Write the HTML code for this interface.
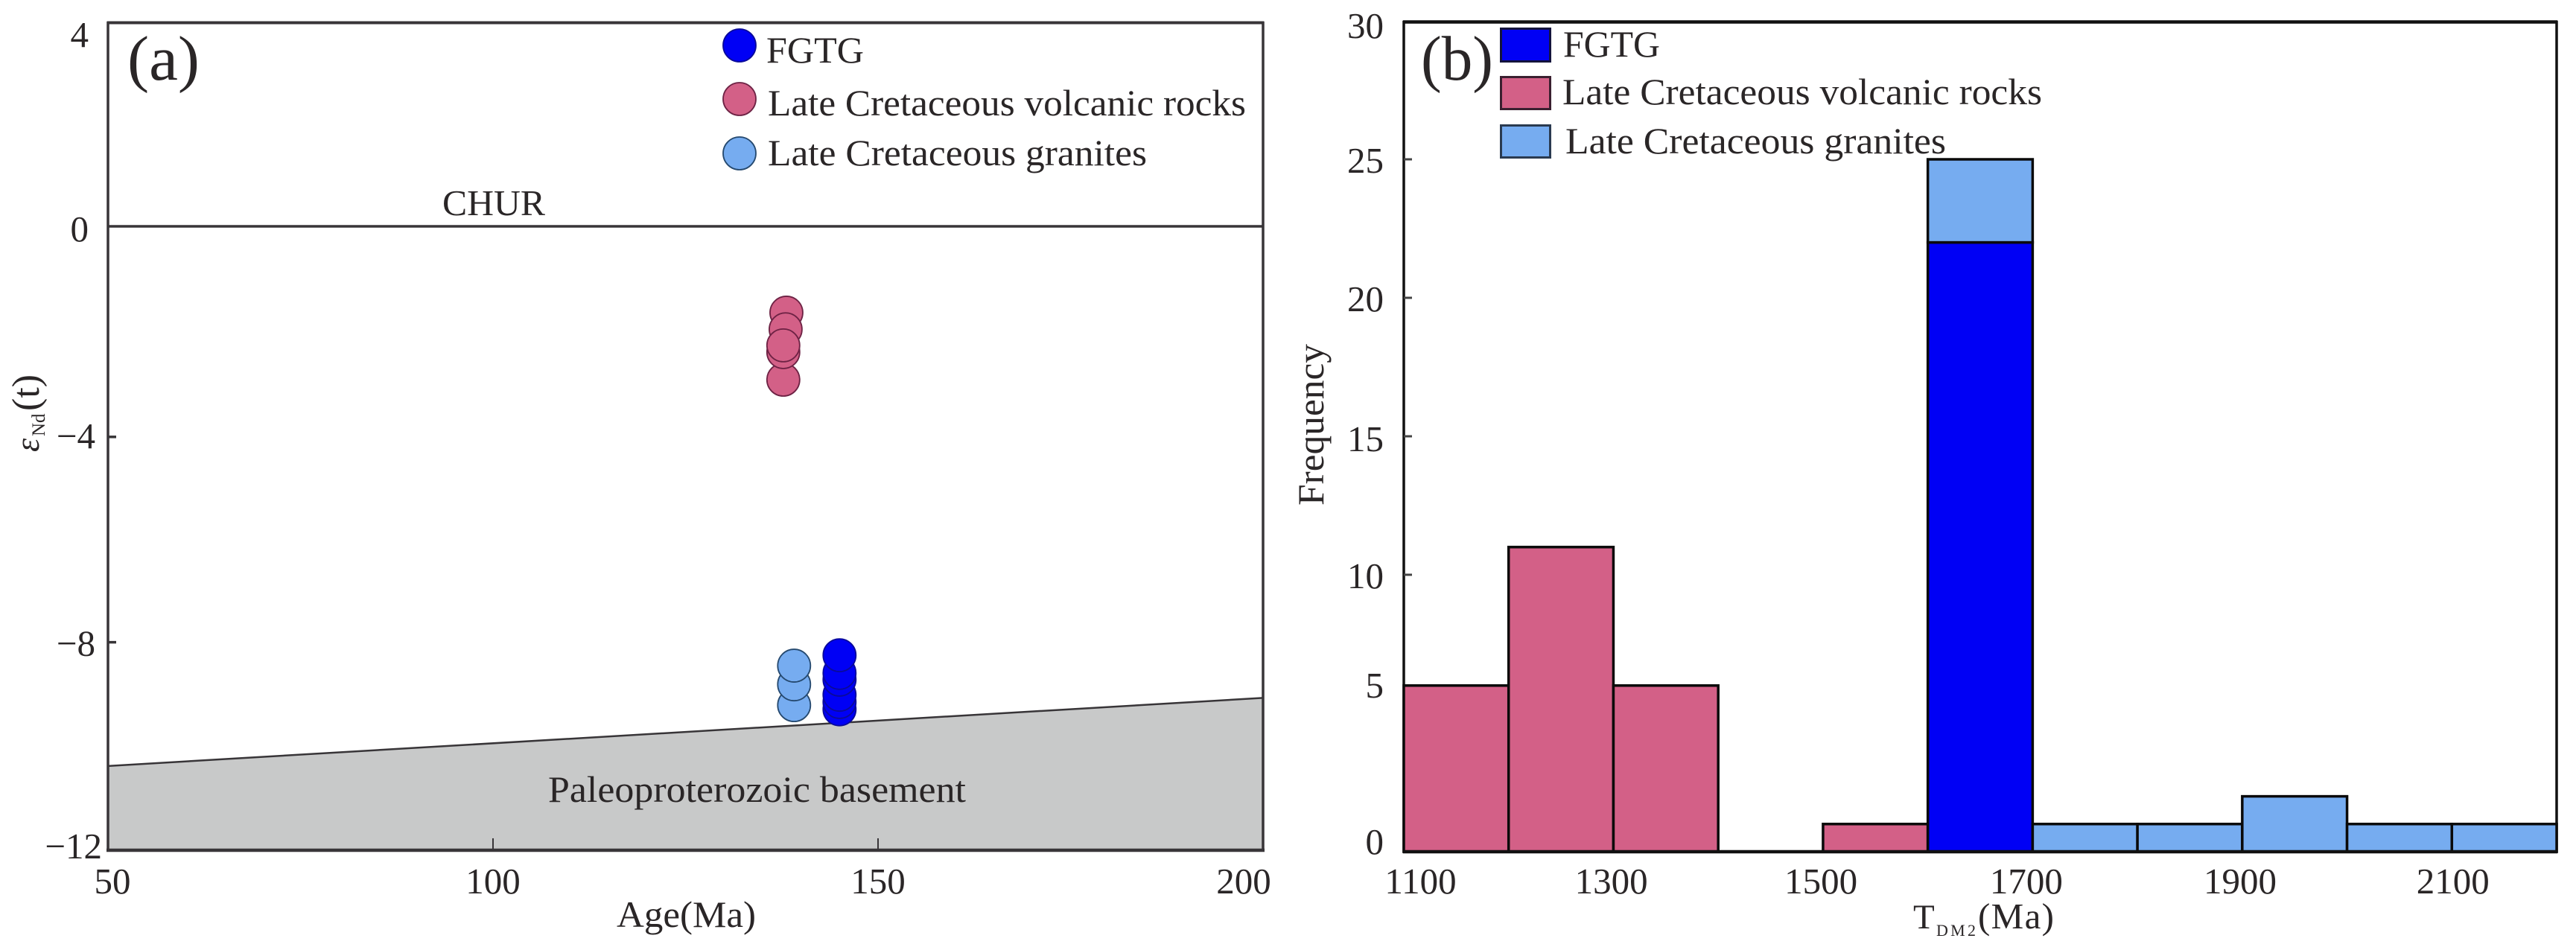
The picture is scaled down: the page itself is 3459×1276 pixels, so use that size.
<!DOCTYPE html>
<html lang="en">
<head>
<meta charset="utf-8">
<title>Nd isotope age plot and TDM2 histogram</title>
<style>
html,body{margin:0;padding:0;background:#fff;width:3459px;height:1276px;overflow:hidden}
svg{display:block}
text{font-family:"Liberation Serif","DejaVu Serif",serif;fill:#2a2627;font-size:49px}
</style>
</head>
<body>
<svg id="figure" xmlns="http://www.w3.org/2000/svg" width="3459" height="1276" viewBox="0 0 3459 1276">
  <rect x="0" y="0" width="3459" height="1276" fill="#fff"/>
  <g id="panelA"></g>
  <g id="panelB"></g>

  <text x="171" y="107" style="font-size:85px" textLength="97" lengthAdjust="spacingAndGlyphs">(a)</text>
  <text x="594" y="289" textLength="138" lengthAdjust="spacingAndGlyphs">CHUR</text>
  <text x="736" y="1077" style="font-size:50px" textLength="561" lengthAdjust="spacingAndGlyphs">Paleoproterozoic basement</text>
  <text x="828" y="1245" style="font-size:50px" textLength="187" lengthAdjust="spacingAndGlyphs">Age(Ma)</text>
  <text transform="translate(52,607) rotate(-90)"><tspan font-style="italic" style="font-size:46px" x="0" y="0">ε</tspan><tspan style="font-size:25px" x="21" y="8">Nd</tspan><tspan style="font-size:52px" x="55" y="0">(t)</tspan></text>

  <text x="1029" y="84" style="font-size:50px" textLength="131" lengthAdjust="spacingAndGlyphs">FGTG</text>
  <text x="1031" y="155" style="font-size:50px" textLength="642" lengthAdjust="spacingAndGlyphs">Late Cretaceous volcanic rocks</text>
  <text x="1031" y="222" style="font-size:50px" textLength="509" lengthAdjust="spacingAndGlyphs">Late Cretaceous granites</text>

  <text x="1908" y="107" style="font-size:85px" textLength="97" lengthAdjust="spacingAndGlyphs">(b)</text>
  <text transform="translate(2569,1247)"><tspan style="font-size:47px" x="0" y="0">T</tspan><tspan style="font-size:22px" x="31" y="10" textLength="53" lengthAdjust="spacing">DM2</tspan><tspan style="font-size:49px" x="87" y="0" textLength="102" lengthAdjust="spacing">(Ma)</tspan></text>
  <text transform="translate(1777,679) rotate(-90)" textLength="217" lengthAdjust="spacingAndGlyphs" style="font-size:50px">Frequency</text>

  <text x="2099" y="76" style="font-size:50px" textLength="130" lengthAdjust="spacingAndGlyphs">FGTG</text>
  <text x="2098" y="140" style="font-size:50px" textLength="644" lengthAdjust="spacingAndGlyphs">Late Cretaceous volcanic rocks</text>
  <text x="2102" y="206" style="font-size:50px" textLength="511" lengthAdjust="spacingAndGlyphs">Late Cretaceous granites</text>
</svg>
<script>
// ---------- Panel (a) data ----------
const volcanicAges = [137.7, 137.7, 138.1, 138.0, 137.7];
const volcanicEps  = [-2.95, -2.42, -1.66, -1.98, -2.29];
const graniteAges  = [139.1, 139.1, 139.1];
const graniteEps   = [-9.21, -8.81, -8.45];
const fgtgAges     = [145, 145, 145, 145, 145, 145];
const fgtgEps      = [-9.29, -9.15, -9.01, -8.72, -8.59, -8.25];
const basementAges = [50, 200];
const basementEps  = [-10.38, -9.07];
const churEps      = 0;
const aXTicks      = [50, 100, 150, 200];
const aYTicks      = [-4.05, -8];
const aYLabelAt    = [3.68, -0.06, -4.04, -8.03, -11.93];
const aYLabels     = ['4', '0', '−4', '−8', '−12'];

// ---------- Panel (b) data ----------
const binStarts    = [1100, 1200, 1300, 1400, 1500, 1600, 1700, 1800, 1900, 2000, 2100];
const binWidth     = 100;
const volcanicFreq = [6, 11, 6, 0, 1, 0, 0, 0, 0, 0, 0];
const fgtgFreq     = [0, 0, 0, 0, 0, 22, 0, 0, 0, 0, 0];
const graniteFreq  = [0, 0, 0, 0, 0, 3, 1, 1, 2, 1, 1];
const bXLabels     = [1100, 1300, 1500, 1700, 1900, 2100];
const bXLabelAt    = [1116, 1298, 1498, 1694, 1898, 2101];
const bYTicks      = [10, 15, 20, 25];
const bYLabelAt    = [0.40, 6.05, 10, 14.95, 20, 25, 29.87];
const bYLabels     = ['0', '5', '10', '15', '20', '25', '30'];

// ---------- Styles ----------
const PINK = '#d36087', LIGHT = '#76acf0', BLUE = '#0000f5', GRAY = '#c8c9c9', INK = '#383538';
const SVGNS = 'http://www.w3.org/2000/svg';

function mk(parent, tag, attrs, text) {
  const el = document.createElementNS(SVGNS, tag);
  for (const k in attrs) el.setAttribute(k, attrs[k]);
  if (text !== undefined) el.textContent = text;
  parent.appendChild(el);
  return el;
}

// Axis functions
const ax = v => 145 + (v - 50) * 10.34;
const ay = v => 304 - v * 69.83;
const bx = v => 1885 + (v - 1100) * 1.4073;
const by = v => 1144 - v * 37.2;

const A = document.getElementById('panelA');
const B = document.getElementById('panelB');

// ---------- Draw panel (a) ----------
const basement = mk(A, 'polygon', {
  points: [
    [ax(basementAges[0]), ay(basementEps[0])],
    [ax(basementAges[1]), ay(basementEps[1])],
    [ax(basementAges[1]), ay(-12)],
    [ax(basementAges[0]), ay(-12)]
  ].map(p => p.join(',')).join(' '),
  fill: GRAY
});



const basementLine = mk(A, 'line', {
  x1: ax(basementAges[0]), y1: ay(basementEps[0]),
  x2: ax(basementAges[1]), y2: ay(basementEps[1]),
  stroke: INK, 'stroke-width': 2.5
});



const churLine = mk(A, 'line', { x1: 145, x2: 1696, y1: ay(churEps), y2: ay(churEps), stroke: INK, 'stroke-width': 3.5 });



const frameA = mk(A, 'path', { d: 'M145 30.5H1696V' + ay(-12) + 'H145Z', fill: 'none', stroke: INK, 'stroke-width': 3.5 });


const topA = mk(A, 'line', { x1: 144, x2: 1697, y1: 30.5, y2: 30.5, stroke: INK, 'stroke-width': 4 });


const bottomA = mk(A, 'line', { x1: 143, x2: 1698, y1: ay(-12), y2: ay(-12), stroke: INK, 'stroke-width': 4.5 });



aXTicks.forEach(v => {
  if (v !== 50 && v !== 200) {
    const t = mk(A, 'line', { x1: ax(v), x2: ax(v), y1: ay(-12), y2: ay(-12) - 16, stroke: INK, 'stroke-width': 2 });
    
    
  }
  const cx = Math.min(1670, Math.max(151, ax(v)));
  const l = mk(A, 'text', { x: cx, y: 1200, 'text-anchor': 'middle' }, String(v));
  
  
});
aYTicks.forEach(v => {
  const t = mk(A, 'line', { x1: 145, x2: 156, y1: ay(v), y2: ay(v), stroke: INK, 'stroke-width': 3.5 });
  
  
});
aYLabels.forEach((s, i) => {
  const l = mk(A, 'text', { x: 110 + 9 * s.length, y: ay(aYLabelAt[i]) + 16, 'text-anchor': 'end' }, s);
  
  
});

function drawPoints(ages, eps, fill, stroke, name) {
  ages.forEach((age, i) => {
    const c = mk(A, 'circle', { cx: ax(age), cy: ay(eps[i]), r: 22, fill: fill, stroke: stroke, 'stroke-width': 1.8 });
    
    
  });
}
drawPoints(volcanicAges, volcanicEps, PINK, '#6d2244', 'volcanic-point');
drawPoints(graniteAges, graniteEps, LIGHT, '#25496f', 'granite-point');
drawPoints(fgtgAges, fgtgEps, BLUE, '#0a0a9a', 'fgtg-point');

const lgA1 = mk(A, 'circle', { cx: 993, cy: 61, r: 22, fill: BLUE, stroke: '#0a0a9a', 'stroke-width': 1.8 });


const lgA2 = mk(A, 'circle', { cx: 993, cy: 133, r: 22, fill: PINK, stroke: '#6d2244', 'stroke-width': 1.8 });


const lgA3 = mk(A, 'circle', { cx: 993, cy: 206, r: 22, fill: LIGHT, stroke: '#25496f', 'stroke-width': 1.8 });



// ---------- Draw panel (b) ----------
const frameB = mk(B, 'path', { d: 'M1885 29.5H3433V' + by(0) + 'H1885Z', fill: 'none', stroke: '#111', 'stroke-width': 3.5 });


const topB = mk(B, 'line', { x1: 1884, x2: 3434, y1: 29.5, y2: 29.5, stroke: '#111', 'stroke-width': 4.5 });



bYTicks.forEach(v => {
  const t = mk(B, 'line', { x1: 1885, x2: 1896, y1: by(v), y2: by(v), stroke: '#444', 'stroke-width': 3 });
  
  
});

function drawBar(start, base, count, fill, name) {
  if (count <= 0) return;
  const r = mk(B, 'rect', {
    x: bx(start), y: by(base + count),
    width: bx(start + binWidth) - bx(start),
    height: by(base) - by(base + count),
    fill: fill, stroke: '#0a0a0a', 'stroke-width': 3.5
  });
  
  
}
binStarts.forEach((s, i) => {
  drawBar(s, 0, volcanicFreq[i], PINK, 'bar-volcanic');
  drawBar(s, volcanicFreq[i], fgtgFreq[i], BLUE, 'bar-fgtg');
  drawBar(s, volcanicFreq[i] + fgtgFreq[i], graniteFreq[i], LIGHT, 'bar-granite');
});
const bottomB = mk(B, 'line', { x1: 1884, x2: 3434, y1: by(0), y2: by(0), stroke: '#111', 'stroke-width': 4.5 });



bXLabels.forEach((v, i) => {
  const l = mk(B, 'text', { x: bx(bXLabelAt[i]), y: 1200, 'text-anchor': 'middle' }, String(v));
  
  
});
bYLabels.forEach((s, i) => {
  const l = mk(B, 'text', { x: 1858, y: by(bYLabelAt[i]) + 18, 'text-anchor': 'end' }, s);
  
  
});

const lgB1 = mk(B, 'rect', { x: 2015.5, y: 38.5, width: 66, height: 44, fill: BLUE, stroke: '#14143c', 'stroke-width': 3 });


const lgB2 = mk(B, 'rect', { x: 2015.5, y: 103.5, width: 66, height: 43, fill: PINK, stroke: '#3a2030', 'stroke-width': 3 });


const lgB3 = mk(B, 'rect', { x: 2015.5, y: 168.5, width: 66, height: 43, fill: LIGHT, stroke: '#2a3a50', 'stroke-width': 3 });


</script>
</body>
</html>
